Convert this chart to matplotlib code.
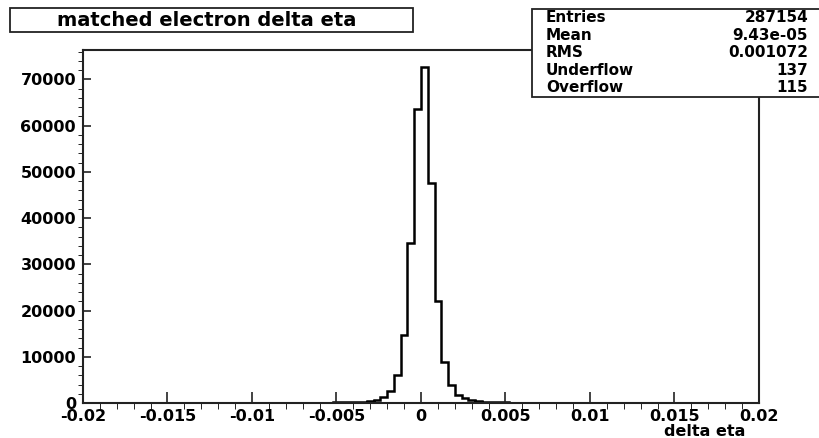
import numpy as np
import matplotlib
matplotlib.use("Agg")
import matplotlib.pyplot as plt
from matplotlib.patches import Rectangle

plt.rcParams['font.family'] = ['DejaVu Sans']
plt.rcParams['font.weight'] = 'bold'

# histogram: 100 bins from -0.02 to 0.02, only the central ones are non-empty
x_min, x_max, n_bins = -0.02, 0.02, 100
core_start = -0.0052
core_counts = [120, 130, 150, 180, 230, 350, 600, 1400, 2550, 6100,
               14600, 34500, 63500, 72700, 47600, 22000, 8950, 3900,
               1750, 1050, 580, 350, 250, 200, 160, 130]

x_ticks = [-0.02, -0.015, -0.01, -0.005, 0, 0.005, 0.01, 0.015, 0.02]
x_labels = ['-0.02', '-0.015', '-0.01', '-0.005', '0', '0.005', '0.01', '0.015', '0.02']
y_ticks = [0, 10000, 20000, 30000, 40000, 50000, 60000, 70000]
y_labels = ['0', '10000', '20000', '30000', '40000', '50000', '60000', '70000']

title = 'matched electron delta eta'
x_title = 'delta eta'
stat_names = ['Entries', 'Mean', 'RMS', 'Underflow', 'Overflow']
stat_values = ['287154', '9.43e-05', '0.001072', '137', '115']

# build full bin contents
edges = np.linspace(x_min, x_max, n_bins + 1)
width = (x_max - x_min) / n_bins
counts = np.zeros(n_bins)
first = int(round((core_start - x_min) / width))
counts[first:first + len(core_counts)] = core_counts

fig = plt.figure(figsize=(8.19, 4.38), dpi=100)
ax = fig.add_axes([83/819, 1 - 403/438, (759 - 83)/819, (403 - 50)/438])

ax.stairs(counts, edges, color='black', lw=1.8, baseline=0)
ax.set_xlim(x_min, x_max)
ax.set_ylim(0, 1.05 * counts.max())

ax.set_xticks(x_ticks)
ax.set_xticklabels(x_labels)
ax.set_yticks(y_ticks)
ax.set_yticklabels(y_labels)
ax.set_xticks(np.arange(x_min, x_max + 1e-9, 0.001), minor=True)
ax.set_yticks(np.arange(0, 1.05 * counts.max(), 2000), minor=True)

ax.tick_params(direction='in', top=False, right=False, labelsize=11.5, width=1.2, color='#222222')
ax.tick_params(axis='x', which='major', length=8, pad=4)
ax.tick_params(axis='x', which='minor', length=4)
ax.tick_params(axis='y', which='major', length=6, pad=5)
ax.tick_params(axis='y', which='minor', length=3.3)
for lab in ax.get_xticklabels() + ax.get_yticklabels():
    lab.set_fontweight('bold')
for sp in ax.spines.values():
    sp.set_linewidth(1.5)
    sp.set_color('#222222')

fig.text(745/819, 1 - 431/438, x_title, ha='right', va='center', fontsize=11.5, fontweight='bold')

# title box
fig.add_artist(Rectangle((10/819, 1 - 32/438), 403/819, 24/438, transform=fig.transFigure,
                         facecolor='white', edgecolor='#222222', lw=1.3, zorder=5))
fig.text(207/819, 1 - 20/438, title, ha='center', va='center', fontsize=14,
         fontweight='bold', zorder=6)

# stats box
fig.add_artist(Rectangle((532/819, 1 - 97/438), 300/819, 88/438, transform=fig.transFigure,
                         facecolor='white', edgecolor='#222222', lw=1.3, zorder=5))
row_y = [17.5, 35, 52.5, 70.5, 88]
for name, val, yy in zip(stat_names, stat_values, row_y):
    fig.text(546/819, 1 - yy/438, name, ha='left', va='center', fontsize=11,
             fontweight='bold', zorder=6)
    fig.text(808/819, 1 - yy/438, val, ha='right', va='center', fontsize=11,
             fontweight='bold', zorder=6)

fig.savefig('out.png', dpi=100, facecolor='white')
